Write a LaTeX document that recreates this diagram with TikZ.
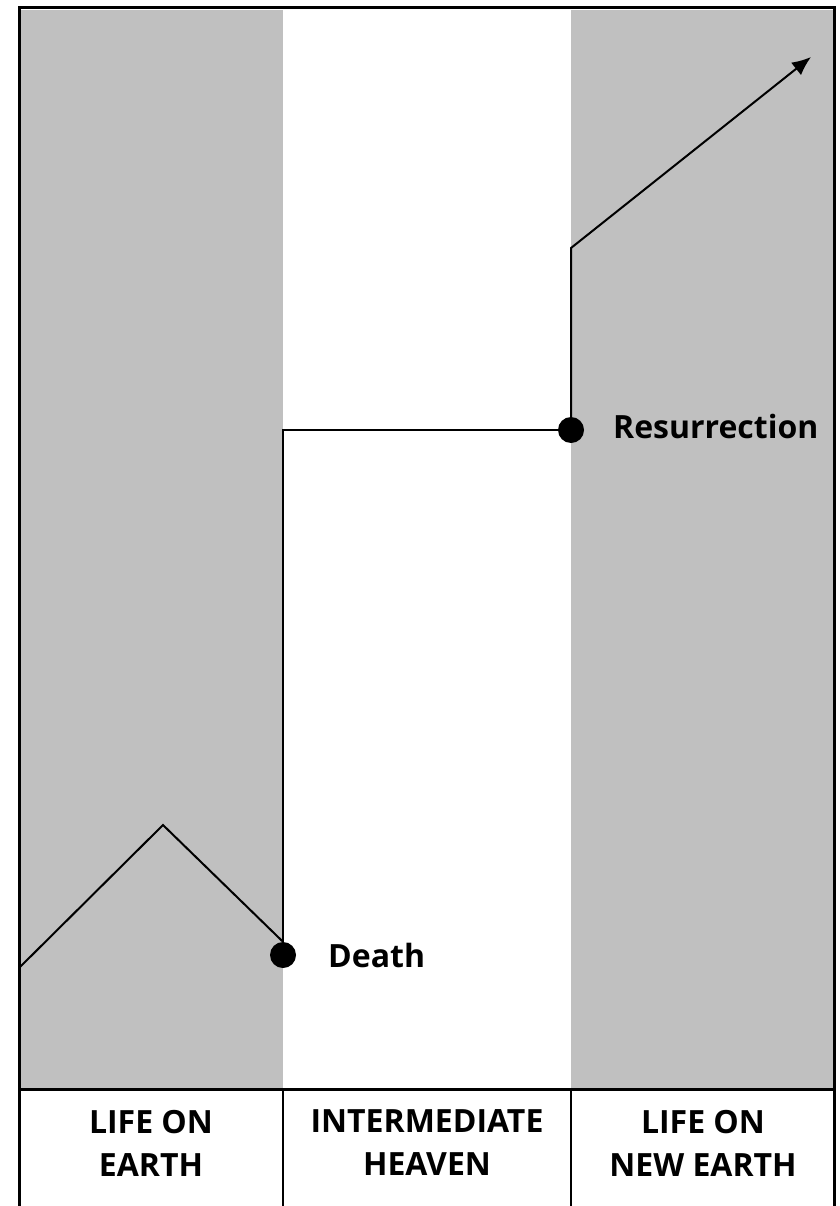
\documentclass[tikz,border=0pt]{standalone}
\usepackage{fontspec}
\setmainfont{Open Sans}
\usetikzlibrary{arrows.meta}
\definecolor{bandgray}{RGB}{192,192,192}
\begin{document}
\begin{tikzpicture}[x=1pt,y=-1pt,
  frameline/.style={line width=3pt},
  divline/.style={line width=2.4pt},
  lifeline/.style={line width=2pt},
  dotnode/.style={circle,fill=black,minimum size=26pt,inner sep=0pt},
  eventlabel/.style={font=\bfseries\fontsize{32}{40}\selectfont,anchor=base west,inner sep=0pt},
  collabel/.style={font=\bfseries\fontsize{32}{43}\selectfont,align=center,inner sep=0pt},
]
\useasboundingbox (0,0) rectangle (839,1206);
% bands
\fill[bandgray] (20,10) rectangle (283,1089);
\fill[bandgray] (571,10) rectangle (834,1089);
% frame
\draw[frameline] (19,1206) -- (19,8) -- (834,8) -- (834,1206);
\draw[frameline] (19,1089) -- (834,1089);
\draw[divline] (283,1089) -- (283,1206);
\draw[divline] (571,1089) -- (571,1206);
% events
\node[dotnode] (death) at (283,955) {};
\node[dotnode] (resurrection) at (571,430) {};
\coordinate (start) at (20,967);
\coordinate (peak) at (163,825);
\coordinate (bend) at (571,248);
\coordinate (tip) at (811,57);
\draw[lifeline] (start) -- (peak) -- (death.north);
\draw[lifeline] (death.center) -- (death.center |- resurrection.center) -- (resurrection.center);
\draw[lifeline,-{Latex[length=19pt,width=16pt]}] (resurrection.center) -- (bend) -- (tip);
\node[eventlabel] (deathlabel) at (328,967) {Death};
\node[eventlabel] (reslabel) at (613,438) {Resurrection};
% column labels
\node[collabel] (earthlabel) at (151,1143) {LIFE ON\\EARTH};
\node[collabel] (heavenlabel) at (427,1143) {INTERMEDIATE\\HEAVEN};
\node[collabel] (newearthlabel) at (703,1143) {LIFE ON\\NEW EARTH};
\end{tikzpicture}
\end{document}
